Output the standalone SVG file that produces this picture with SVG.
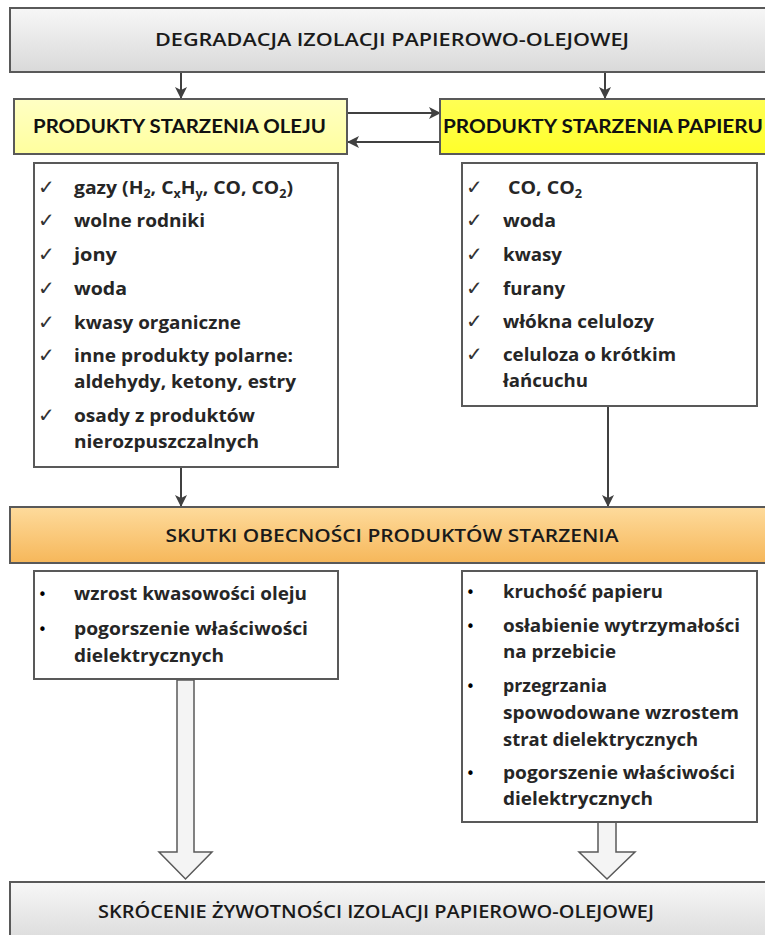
<svg xmlns="http://www.w3.org/2000/svg" width="765" height="935" viewBox="0 0 765 935">
<defs>
<linearGradient id="gGray" x1="0" y1="0" x2="0" y2="1"><stop offset="0" stop-color="#f7f7f7"/><stop offset="1" stop-color="#d9d9d9"/></linearGradient>
<linearGradient id="gOrange" x1="0" y1="0" x2="0" y2="1"><stop offset="0" stop-color="#fedb9c"/><stop offset="1" stop-color="#f6b75a"/></linearGradient>
<linearGradient id="gPale" x1="0" y1="0" x2="0" y2="1"><stop offset="0" stop-color="#ffffc4"/><stop offset="1" stop-color="#ffff9e"/></linearGradient>
<linearGradient id="gYellow" x1="0" y1="0" x2="0" y2="1"><stop offset="0" stop-color="#ffff55"/><stop offset="1" stop-color="#ffff2a"/></linearGradient>
<marker id="ah" markerWidth="12" markerHeight="12" refX="11" refY="6" orient="auto" markerUnits="userSpaceOnUse"><path d="M0,0 L12,6 L0,12 L3,6 Z" fill="#404040"/></marker>
<style>
.box{stroke:#595959;stroke-width:2}
.list{fill:#fff}
.hdr{font-family:"Open Sans","Liberation Sans",sans-serif;font-size:18px;font-weight:600;fill:#1a1a1a;text-anchor:middle}
.hb{font-family:Lato,"Liberation Sans",sans-serif;font-size:18px;font-weight:bold;fill:#111}
.it{font-family:"Open Sans","Liberation Sans",sans-serif;font-size:18.5px;font-weight:bold;fill:#262626}
.ck{font-family:"DejaVu Sans",sans-serif;font-size:20px;fill:#333}
.bl{font-family:"DejaVu Sans",sans-serif;font-size:15px;fill:#000}
.sub{font-size:12px}
.con{stroke:#404040;stroke-width:2;fill:none}
.blk{fill:#f4f4f4;stroke:#595959;stroke-width:1.5}
</style>
</defs>

<g id="connectors">
<line class="con" x1="181" y1="72" x2="181" y2="98" marker-end="url(#ah)"/>
<line class="con" x1="605" y1="72" x2="605" y2="98" marker-end="url(#ah)"/>
<line class="con" x1="348" y1="113" x2="440" y2="113" marker-end="url(#ah)"/>
<line class="con" x1="440" y1="142" x2="348" y2="142" marker-end="url(#ah)"/>
<line class="con" x1="181" y1="467" x2="181" y2="506" marker-end="url(#ah)"/>
<line class="con" x1="608" y1="406" x2="608" y2="506" marker-end="url(#ah)"/>
<path class="blk" d="M177,680 L194,680 L194,852 L212,852 L185.5,879 L159,852 L177,852 Z"/>
<path class="blk" d="M598,822 L616,822 L616,852 L635,852 L607,879 L579,852 L598,852 Z"/>
</g>

<g id="n-degradacja">
<rect class="box" x="10" y="8" width="765" height="64" fill="url(#gGray)"/>
<text class="hdr" x="392" y="46" textLength="474" lengthAdjust="spacingAndGlyphs">DEGRADACJA IZOLACJI PAPIEROWO-OLEJOWEJ</text>
</g>

<g id="n-olej">
<rect class="box" x="14" y="99" width="333" height="55" fill="url(#gPale)"/>
<text class="hb" x="33" y="133" textLength="293" lengthAdjust="spacingAndGlyphs">PRODUKTY STARZENIA OLEJU</text>
</g>

<g id="n-papier">
<rect class="box" x="440" y="99" width="335" height="55" fill="url(#gYellow)"/>
<text class="hb" x="443" y="133" textLength="320" lengthAdjust="spacingAndGlyphs">PRODUKTY STARZENIA PAPIERU</text>
</g>

<g id="n-lista-olej">
<rect class="box list" x="34" y="163" width="304" height="304"/>
<text class="ck" x="38" y="194">✓</text>
<text class="ck" x="38" y="227">✓</text>
<text class="ck" x="38" y="261">✓</text>
<text class="ck" x="38" y="295">✓</text>
<text class="ck" x="38" y="329">✓</text>
<text class="ck" x="38" y="362">✓</text>
<text class="ck" x="38" y="422">✓</text>
<text class="it" x="74" y="194" textLength="219" lengthAdjust="spacingAndGlyphs">gazy (H<tspan class="sub" dy="4">2</tspan><tspan dy="-4">, C</tspan><tspan class="sub" dy="4">x</tspan><tspan dy="-4">H</tspan><tspan class="sub" dy="4">y</tspan><tspan dy="-4">, CO, CO</tspan><tspan class="sub" dy="4">2</tspan><tspan dy="-4">)</tspan></text>
<text class="it" x="74" y="227" textLength="131" lengthAdjust="spacingAndGlyphs">wolne rodniki</text>
<text class="it" x="74" y="261" textLength="43" lengthAdjust="spacingAndGlyphs">jony</text>
<text class="it" x="74" y="295" textLength="53" lengthAdjust="spacingAndGlyphs">woda</text>
<text class="it" x="74" y="329" textLength="167" lengthAdjust="spacingAndGlyphs">kwasy organiczne</text>
<text class="it" x="74" y="362" textLength="219" lengthAdjust="spacingAndGlyphs">inne produkty polarne:</text>
<text class="it" x="74" y="388" textLength="222" lengthAdjust="spacingAndGlyphs">aldehydy, ketony, estry</text>
<text class="it" x="74" y="422" textLength="181" lengthAdjust="spacingAndGlyphs">osady z produktów</text>
<text class="it" x="74" y="448" textLength="185" lengthAdjust="spacingAndGlyphs">nierozpuszczalnych</text>
</g>

<g id="n-lista-papier">
<rect class="box list" x="462" y="163" width="295" height="243"/>
<text class="ck" x="466" y="194">✓</text>
<text class="ck" x="466" y="227">✓</text>
<text class="ck" x="466" y="261">✓</text>
<text class="ck" x="466" y="295">✓</text>
<text class="ck" x="466" y="328">✓</text>
<text class="ck" x="466" y="361">✓</text>
<text class="it" x="508" y="194" textLength="74" lengthAdjust="spacingAndGlyphs">CO, CO<tspan class="sub" dy="4">2</tspan></text>
<text class="it" x="503" y="227" textLength="53" lengthAdjust="spacingAndGlyphs">woda</text>
<text class="it" x="503" y="261" textLength="59" lengthAdjust="spacingAndGlyphs">kwasy</text>
<text class="it" x="503" y="295" textLength="62" lengthAdjust="spacingAndGlyphs">furany</text>
<text class="it" x="503" y="328" textLength="151" lengthAdjust="spacingAndGlyphs">włókna celulozy</text>
<text class="it" x="503" y="361" textLength="173" lengthAdjust="spacingAndGlyphs">celuloza o krótkim</text>
<text class="it" x="503" y="387" textLength="85" lengthAdjust="spacingAndGlyphs">łańcuchu</text>
</g>

<g id="n-skutki">
<rect class="box" x="10" y="507" width="765" height="56" fill="url(#gOrange)"/>
<text class="hdr" x="392" y="542" textLength="453" lengthAdjust="spacingAndGlyphs">SKUTKI OBECNOŚCI PRODUKTÓW STARZENIA</text>
</g>

<g id="n-skutki-olej">
<rect class="box list" x="34" y="571" width="304" height="108"/>
<text class="bl" x="38" y="600">•</text>
<text class="bl" x="38" y="635">•</text>
<text class="it" x="74" y="600" textLength="233" lengthAdjust="spacingAndGlyphs">wzrost kwasowości oleju</text>
<text class="it" x="74" y="635" textLength="234" lengthAdjust="spacingAndGlyphs">pogorszenie właściwości</text>
<text class="it" x="74" y="662" textLength="150" lengthAdjust="spacingAndGlyphs">dielektrycznych</text>
</g>

<g id="n-skutki-papier">
<rect class="box list" x="462" y="571" width="295" height="251"/>
<text class="bl" x="466" y="598">•</text>
<text class="bl" x="466" y="632">•</text>
<text class="bl" x="466" y="692">•</text>
<text class="bl" x="466" y="779">•</text>
<text class="it" x="503" y="598" textLength="160" lengthAdjust="spacingAndGlyphs">kruchość papieru</text>
<text class="it" x="503" y="632" textLength="237" lengthAdjust="spacingAndGlyphs">osłabienie wytrzymałości</text>
<text class="it" x="503" y="658" textLength="113" lengthAdjust="spacingAndGlyphs">na przebicie</text>
<text class="it" x="503" y="692" textLength="104" lengthAdjust="spacingAndGlyphs">przegrzania</text>
<text class="it" x="503" y="719" textLength="236" lengthAdjust="spacingAndGlyphs">spowodowane wzrostem</text>
<text class="it" x="503" y="746" textLength="195" lengthAdjust="spacingAndGlyphs">strat dielektrycznych</text>
<text class="it" x="503" y="779" textLength="232" lengthAdjust="spacingAndGlyphs">pogorszenie właściwości</text>
<text class="it" x="503" y="805" textLength="150" lengthAdjust="spacingAndGlyphs">dielektrycznych</text>
</g>

<g id="n-skrocenie">
<rect class="box" x="10" y="882" width="765" height="64" fill="url(#gGray)"/>
<text class="hdr" x="376" y="918" textLength="556" lengthAdjust="spacingAndGlyphs">SKRÓCENIE ŻYWOTNOŚCI IZOLACJI PAPIEROWO-OLEJOWEJ</text>
</g>
</svg>
